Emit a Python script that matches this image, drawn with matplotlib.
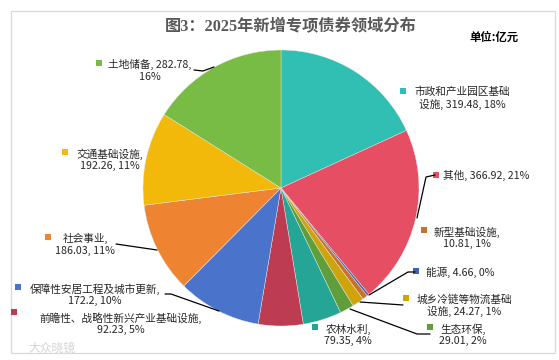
import matplotlib
matplotlib.use('Agg')
import matplotlib.pyplot as plt
from matplotlib.patches import Rectangle

plt.rcParams['font.family'] = ['Noto Sans CJK SC', 'DejaVu Sans']

categories = ['市政和产业园区基础设施', '其他', '能源', '新型基础设施', '城乡冷链等物流基础设施',
              '生态环保', '农林水利', '前瞻性、战略性新兴产业基础设施',
              '保障性安居工程及城市更新', '社会事业', '交通基础设施', '土地储备']
values = [319.48, 366.92, 4.66, 10.81, 24.27, 29.01, 79.35, 92.23, 172.2, 186.03, 192.26, 282.78]
colors = ['#30BFB2', '#E54E63', '#3F62AE', '#C8702F', '#CFA30A', '#5F9E3A',
          '#25A596', '#BE3C52', '#4A74CC', '#EE8432', '#F2B90A', '#78BB45']
label_text = ['市政和产业园区基础\n设施, 319.48, 18%', '其他, 366.92, 21%', '能源, 4.66, 0%',
              '新型基础设施,\n10.81, 1%', '城乡冷链等物流基础\n设施, 24.27, 1%', '生态环保,\n29.01, 2%',
              '农林水利,\n79.35, 4%', '前瞻性、战略性新兴产业基础设施,\n92.23, 5%',
              '保障性安居工程及城市更新,\n172.2, 10%', '社会事业,\n186.03, 11%',
              '交通基础设施,\n192.26, 11%', '土地储备, 282.78,\n16%']
# layout (pixels): label centre x, label centre y, key x, key y
label_pos = [(462, 98.5, 403, 91), (486, 175, 436, 175), (460, 272, 416, 271), (467, 238, 424, 230),
             (464, 305.5, 406, 298), (463, 335, 430, 327), (348, 335, 315, 327), (121, 324, 14, 312),
             (95, 294.5, 18, 287), (85, 244.5, 48, 237), (110, 159.5, 65, 152), (150, 70.5, 99, 63)]
leaders = [([435, 426, 417], [175, 177, 218]),
           ([415, 408, 369], [272, 272, 295]),
           ([403, 360], [305, 302]),
           ([430, 417, 350], [334, 334, 309]),
           ([165, 171, 219], [294, 294, 311]),
           ([116, 157], [244, 250]),
           ([194, 203, 214], [70, 71, 67])]

W, H = 559, 360
fig = plt.figure(figsize=(W / 100, H / 100), dpi=100, facecolor='white')

cx, cy, r = 281, 188, 138
ax = fig.add_axes([(cx - r) / W, (H - cy - r) / H, 2 * r / W, 2 * r / H])
ax.pie(values, colors=colors, startangle=90, counterclock=False, radius=1,
       wedgeprops=dict(edgecolor='#E8E8E8', linewidth=0.3))
ax.set_xlim(-1, 1)
ax.set_ylim(-1, 1)

ov = fig.add_axes([0, 0, 1, 1], facecolor='none')
ov.set_xlim(0, W)
ov.set_ylim(H, 0)
ov.axis('off')
ov.add_patch(Rectangle((10.5, 10.5), 544, 342, fill=False, edgecolor='#D9D9D9', linewidth=0.9))

ov.text(290.5, 27, '图3：2025年新增专项债券领域分布', ha='center', va='center', fontsize=11.7,
        fontweight='bold', color='#595959', family=['Liberation Serif', 'Noto Sans CJK SC'])
ov.text(494.5, 37.5, '单位:亿元', ha='center', va='center', fontsize=8.2, fontweight='bold', color='black')

for text, (tx, ty, kx, ky), c in zip(label_text, label_pos, colors):
    ov.text(tx, ty, text, ha='center', va='center', fontsize=7.7, color='#262626', linespacing=1.15)
    ov.add_patch(Rectangle((kx - 3, ky - 3), 6, 6, facecolor=c, edgecolor='none'))

for xs, ys in leaders:
    ov.plot(xs, ys, color='black', linewidth=0.9, solid_capstyle='round')

ov.text(52, 348, '大众晓镜', ha='center', va='center', fontsize=8.5, color='#D5D5D5')

fig.savefig('out.png', dpi=100)
